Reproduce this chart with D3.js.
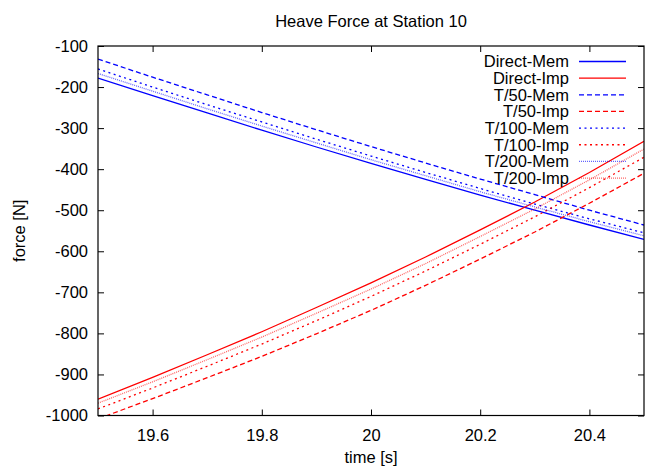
<!DOCTYPE html>
<html>
<head>
<meta charset="utf-8">
<script src="https://cdn.jsdelivr.net/npm/d3@7"></script>
<style>
  html, body { margin: 0; padding: 0; background: #fff; }
  svg { display: block; font-family: "Liberation Sans", Arial, sans-serif; }
</style>
</head>
<body>
<svg id="chart" width="646" height="467"></svg>
<script>
// ---- data ----
const times = [19.5, 19.6, 19.7, 19.8, 19.9, 20.0, 20.1, 20.2, 20.3, 20.4, 20.5];
const directMem = [-178, -221, -263, -305, -346, -386, -425, -463, -500, -536, -571];
const directImp = [-960, -907, -852, -796, -737, -677, -614, -548, -480, -408, -332];
const t50Mem    = [-132, -176, -219, -262, -304, -345, -385, -424, -462, -500, -536];
const t50Imp    = [-1008, -959, -908, -856, -801, -744, -683, -619, -553, -483, -410];
const t100Mem   = [-156, -200, -243, -285, -327, -368, -408, -447, -485, -521, -555];
const t100Imp   = [-984, -933, -880, -826, -769, -710, -648, -583, -516, -445, -371];
const t200Mem   = [-167, -210, -253, -295, -336, -377, -416, -455, -492, -528, -562];
const t200Imp   = [-970, -918, -864, -809, -751, -692, -630, -564, -497, -426, -351];
const seriesNames = ["Direct-Mem", "Direct-Imp", "T/50-Mem", "T/50-Imp", "T/100-Mem", "T/100-Imp", "T/200-Mem", "T/200-Imp"];
const xTickValues = [19.6, 19.8, 20.0, 20.2, 20.4];
const xTickLabels = ["19.6", "19.8", "20", "20.2", "20.4"];
const yTickValues = [-1000, -900, -800, -700, -600, -500, -400, -300, -200, -100];
const yTickLabels = ["-1000", "-900", "-800", "-700", "-600", "-500", "-400", "-300", "-200", "-100"];
const titleText = "Heave Force at Station 10";
const xLabel = "time [s]";
const yLabel = "force [N]";

// ---- styles ----
const seriesValues = [directMem, directImp, t50Mem, t50Imp, t100Mem, t100Imp, t200Mem, t200Imp];
const styles = [
  { color: "#0000ff", dash: null, opacity: 1 },
  { color: "#ff0000", dash: null, opacity: 1 },
  { color: "#0000ff", dash: "5,3", opacity: 1 },
  { color: "#ff0000", dash: "5,3", opacity: 1 },
  { color: "#0000ff", dash: "2,3.5", opacity: 1 },
  { color: "#ff0000", dash: "2,3.5", opacity: 1 },
  { color: "#0000ff", dash: "1,1", opacity: 0.6 },
  { color: "#ff0000", dash: "1,1", opacity: 0.6 }
];

const L = 98, R = 644, T = 46, B = 415.5;
const FS = "16.5px";
const svg = d3.select("#chart");

const x = d3.scaleLinear().domain([19.5, 20.5]).range([L, R]);
const y = d3.scaleLinear().domain([-1000, -100]).range([B, T]);

// clip
svg.append("defs").append("clipPath").attr("id", "clip")
  .append("rect").attr("x", L).attr("y", T).attr("width", R - L).attr("height", B - T);

// axes (ticks inward, mirrored)
const xFmt = d => xTickLabels[xTickValues.indexOf(d)];
const yFmt = d => yTickLabels[yTickValues.indexOf(d)];

const gx = svg.append("g").attr("transform", `translate(0,${B})`)
  .call(d3.axisBottom(x).tickValues(xTickValues).tickFormat(xFmt).tickSize(-6).tickPadding(14));
const gxTop = svg.append("g").attr("transform", `translate(0,${T})`)
  .call(d3.axisTop(x).tickValues(xTickValues).tickFormat("").tickSize(-6));
const gy = svg.append("g").attr("transform", `translate(${L},0)`)
  .call(d3.axisLeft(y).tickValues(yTickValues).tickFormat(yFmt).tickSize(-6).tickPadding(10));
const gyR = svg.append("g").attr("transform", `translate(${R},0)`)
  .call(d3.axisRight(y).tickValues(yTickValues).tickFormat("").tickSize(-6));

[gx, gxTop, gy, gyR].forEach(g => {
  g.select(".domain").remove();
  g.selectAll(".tick line").attr("stroke", "#000").attr("stroke-width", 1);
  g.selectAll("text").attr("font-family", "Liberation Sans, Arial, sans-serif")
    .attr("font-size", FS).attr("fill", "#000");
});

// lines
const line = d3.line().x((d, i) => x(times[i])).y(d => y(d));
const plot = svg.append("g").attr("clip-path", "url(#clip)");
seriesValues.forEach((vals, i) => {
  plot.append("path")
    .attr("d", line(vals))
    .attr("fill", "none")
    .attr("stroke", styles[i].color)
    .attr("stroke-width", 1.3)
    .attr("stroke-opacity", styles[i].opacity)
    .attr("stroke-dasharray", styles[i].dash);
});

// border
svg.append("rect").attr("x", L).attr("y", T).attr("width", R - L).attr("height", B - T)
  .attr("fill", "none").attr("stroke", "#000").attr("stroke-width", 1.2);

// legend
const legY0 = 61.5, legDy = 16.65;
const leg = svg.append("g");
seriesNames.forEach((name, i) => {
  const yy = legY0 + i * legDy;
  leg.append("text").attr("x", 569).attr("y", yy).attr("dy", "0.35em")
    .attr("text-anchor", "end").attr("font-size", FS).attr("fill", "#000").text(name);
  leg.append("line").attr("x1", 579).attr("x2", 626).attr("y1", yy).attr("y2", yy)
    .attr("stroke", styles[i].color).attr("stroke-width", 1.3)
    .attr("stroke-opacity", styles[i].opacity)
    .attr("stroke-dasharray", styles[i].dash);
});

// title & labels
svg.append("text").attr("x", (L + R) / 2).attr("y", 27).attr("text-anchor", "middle")
  .attr("font-size", FS).attr("fill", "#000").text(titleText);
svg.append("text").attr("x", (L + R) / 2).attr("y", 463).attr("text-anchor", "middle")
  .attr("font-size", FS).attr("fill", "#000").text(xLabel);
svg.append("text").attr("transform", `translate(25,${(T + B) / 2}) rotate(-90)`)
  .attr("text-anchor", "middle").attr("font-size", FS).attr("fill", "#000").text(yLabel);
</script>
</body>
</html>
